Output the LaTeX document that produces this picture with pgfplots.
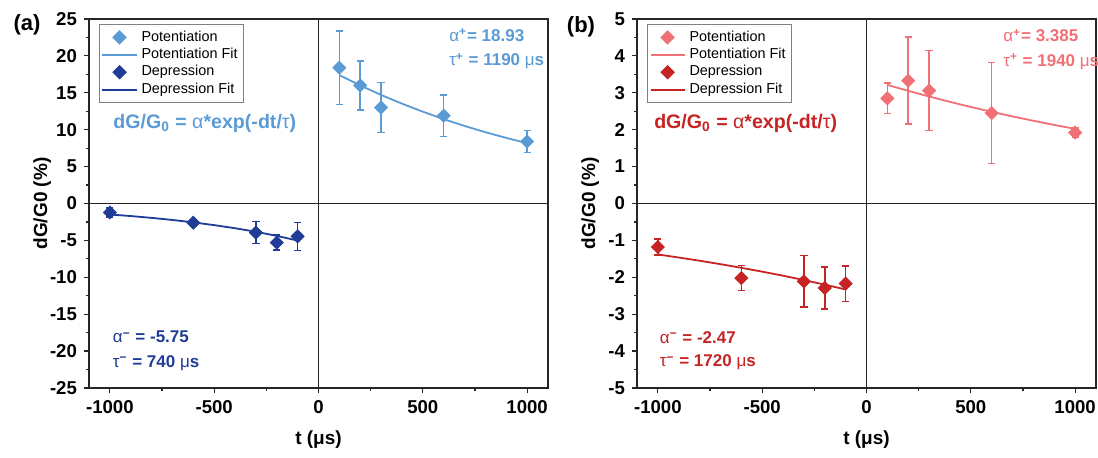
\documentclass[border=0pt]{standalone}
\usepackage{pgfplots}
\pgfplotsset{compat=1.18}
\usepackage{fontspec}
\setmainfont{Liberation Sans}
\definecolor{lblue}{HTML}{5B9BD5}
\definecolor{dblue}{HTML}{1F3C96}
\definecolor{lred}{HTML}{F07075}
\definecolor{dred}{HTML}{C62424}
\definecolor{frame}{HTML}{262626}

\pgfplotsset{
  panel/.style={
    scale only axis, width=229.5pt, height=184.5pt,
    xmin=-1100, xmax=1100,
    xtick={-1000,-500,0,500,1000},
    minor x tick num=1, minor y tick num=1,
    tick align=outside, tick pos=left,
    major tick length=2.5pt, minor tick length=1.5pt,
    every tick/.style={frame, line width=0.6pt},
    axis line style={frame, line width=0.9pt},
    /pgf/number format/assume math mode=true,
    /pgf/number format/1000 sep={},
    tick label style={font=\bfseries\fontsize{9.3}{10}\selectfont},
    label style={font=\bfseries\fontsize{9.5}{11}\selectfont},
    xlabel={t (μs)}, ylabel={dG/G0 (\%)},
    xlabel style={at={(axis description cs:0.5,-0.141)}, anchor=center},
    ylabel style={at={(axis description cs:-0.102,0.5)}, anchor=center},
    legend cell align=left,
    legend style={at={(0.022,0.986)}, anchor=north west, draw=gray,
      line width=0.5pt, font=\fontsize{7.2}{8}\selectfont, inner sep=1pt,
      row sep=-2pt},
    clip=false,
  },
  pts/.style={only marks, color=#1, mark=square*, mark size=2.3pt,
    mark options={rotate=45, solid, fill=#1, draw=#1},
    error bars/.cd, y dir=both, y explicit,
    error bar style={line width=0.75pt, #1},
    error mark options={rotate=90, mark size=1.8pt, line width=0.75pt, #1}},
  fitline/.style={no marks, line width=0.9pt, color=#1},
}
\tikzset{
  ann/.style={anchor=west, text=#1, font=\bfseries\fontsize{8.5}{10}\selectfont},
  eqn/.style={anchor=center, text=#1, font=\bfseries\fontsize{9.8}{11}\selectfont},
  zero/.style={frame, line width=0.8pt},
}

\begin{document}
\begin{tikzpicture}
% ---------- (a) ----------
\begin{axis}[panel, ymin=-25, ymax=25, ytick={-25,-20,...,25}]
  \draw[zero] (axis cs:0,-25) -- (axis cs:0,25);
  \draw[zero] (axis cs:-1100,0) -- (axis cs:1100,0);
  \addplot[pts=lblue] coordinates {
    (100,18.4) +- (0,5.0)
    (200,16.0) +- (0,3.3)
    (300,13.0) +- (0,3.4)
    (600,11.9) +- (0,2.8)
    (1000,8.4) +- (0,1.5)
  };
  \addlegendentry{Potentiation}
  \addplot[fitline=lblue] coordinates {
    (100,17.40) (200,16.00) (300,14.71) (400,13.53) (500,12.44)
    (600,11.43) (700,10.51) (800,9.66) (900,8.89) (1000,8.17)
  };
  \addlegendentry{Potentiation Fit}
  \addplot[pts=dblue] coordinates {
    (-1000,-1.22) +- (0,0.6)
    (-600,-2.6) +- (0,0.35)
    (-300,-3.95) +- (0,1.5)
    (-200,-5.3) +- (0,1.0)
    (-100,-4.45) +- (0,1.9)
  };
  \addlegendentry{Depression}
  \addplot[fitline=dblue] coordinates {
    (-1000,-1.49) (-900,-1.70) (-800,-1.95) (-700,-2.23) (-600,-2.56)
    (-500,-2.93) (-400,-3.35) (-300,-3.83) (-200,-4.39) (-100,-5.02)
  };
  \addlegendentry{Depression Fit}
  \node[eqn=lblue] at (axis cs:-545,10.9) {dG/G\textsubscript{0} = {\mdseries α}*exp(-dt/{\mdseries τ})};
  \node[ann=lblue] at (axis cs:593,22.8) {{\mdseries α}\textsuperscript{+}= 18.93};
  \node[ann=lblue] at (axis cs:593,19.3) {{\mdseries τ}\textsuperscript{+} = 1190 {\mdseries μ}s};
  \node[ann=dblue] at (axis cs:-1019,-18.1) {{\mdseries α}\textsuperscript{−} = -5.75};
  \node[ann=dblue] at (axis cs:-1019,-21.6) {{\mdseries τ}\textsuperscript{−} = 740 {\mdseries μ}s};
  \node[font=\bfseries\fontsize{11}{12}\selectfont] at (axis description cs:-0.135,0.984) {(a)};
\end{axis}
% ---------- (b) ----------
\begin{axis}[panel, at={(274pt,0pt)}, ymin=-5, ymax=5, ytick={-5,-4,...,5}]
  \draw[zero] (axis cs:0,-5) -- (axis cs:0,5);
  \draw[zero] (axis cs:-1100,0) -- (axis cs:1100,0);
  \addplot[pts=lred] coordinates {
    (100,2.85) +- (0,0.41)
    (200,3.33) +- (0,1.18)
    (300,3.06) +- (0,1.08)
    (600,2.45) +- (0,1.37)
    (1000,1.92) +- (0,0.12)
  };
  \addlegendentry{Potentiation}
  \addplot[fitline=lred] coordinates {
    (100,3.215) (200,3.053) (300,2.900) (400,2.754) (500,2.616)
    (600,2.485) (700,2.360) (800,2.241) (900,2.129) (1000,2.022)
  };
  \addlegendentry{Potentiation Fit}
  \addplot[pts=dred] coordinates {
    (-1000,-1.18) +- (0,0.22)
    (-600,-2.02) +- (0,0.34)
    (-300,-2.11) +- (0,0.70)
    (-200,-2.29) +- (0,0.57)
    (-100,-2.17) +- (0,0.48)
  };
  \addlegendentry{Depression}
  \addplot[fitline=dred] coordinates {
    (-1000,-1.381) (-900,-1.464) (-800,-1.551) (-700,-1.644) (-600,-1.743)
    (-500,-1.847) (-400,-1.957) (-300,-2.075) (-200,-2.199) (-100,-2.330)
  };
  \addlegendentry{Depression Fit}
  \node[eqn=dred] at (axis cs:-579,2.17) {dG/G\textsubscript{0} = {\mdseries α}*exp(-dt/{\mdseries τ})};
  \node[ann=lred] at (axis cs:622,4.55) {{\mdseries α}\textsuperscript{+}= 3.385};
  \node[ann=lred] at (axis cs:622,3.85) {{\mdseries τ}\textsuperscript{+} = 1940 {\mdseries μ}s};
  \node[ann=dred] at (axis cs:-1024,-3.63) {{\mdseries α}\textsuperscript{−} = -2.47};
  \node[ann=dred] at (axis cs:-1024,-4.31) {{\mdseries τ}\textsuperscript{−} = 1720 {\mdseries μ}s};
  \node[font=\bfseries\fontsize{11}{12}\selectfont] at (axis description cs:-0.122,0.978) {(b)};
\end{axis}
\pgfresetboundingbox
\useasboundingbox (-44.5pt,-35pt) rectangle (504.5pt,194pt);
\end{tikzpicture}
\end{document}
